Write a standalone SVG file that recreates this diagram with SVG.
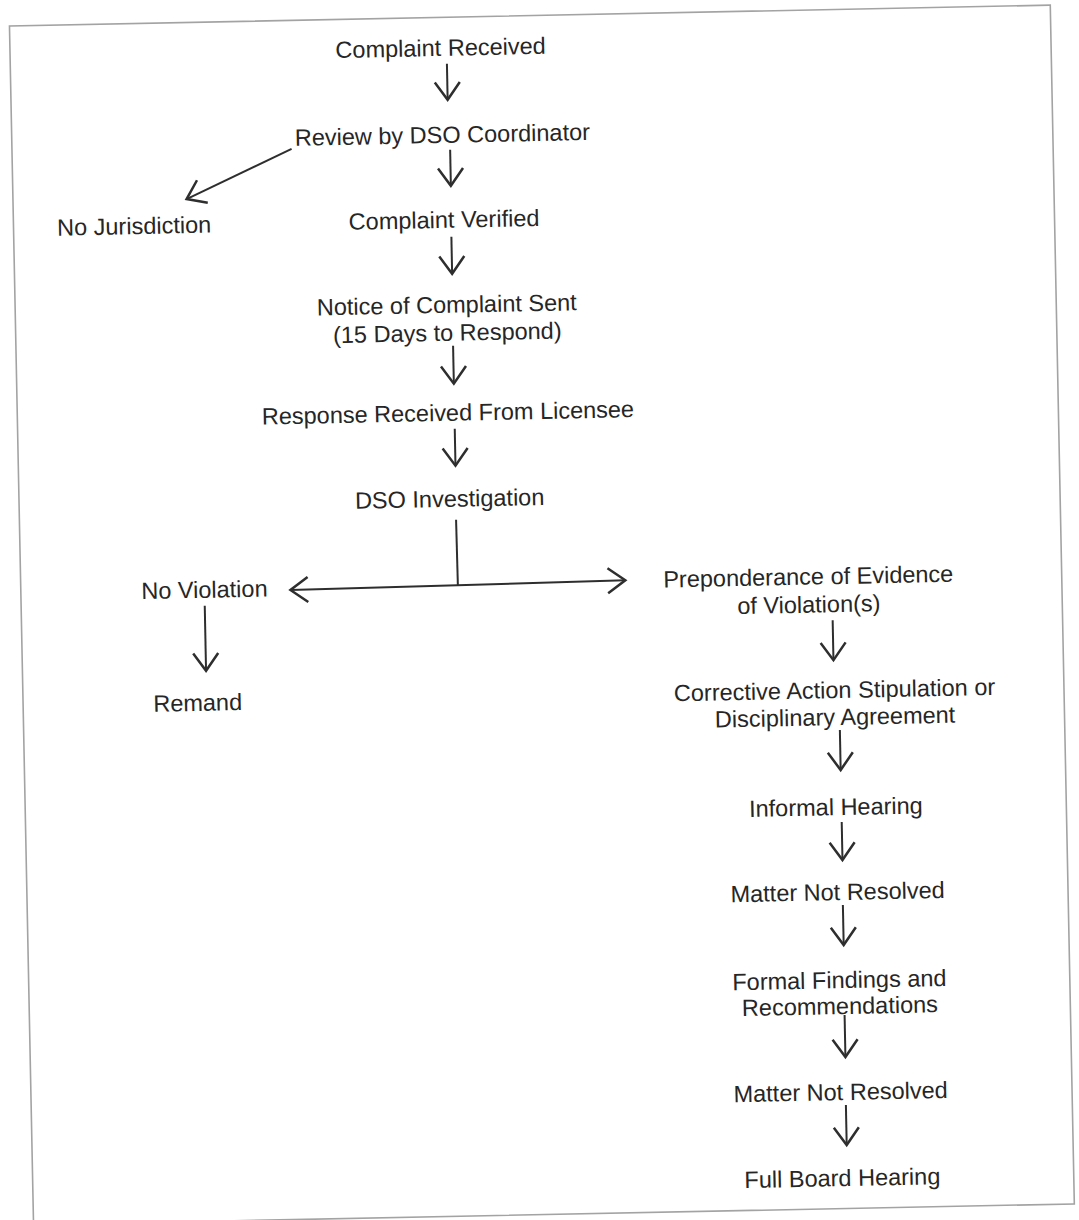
<svg xmlns="http://www.w3.org/2000/svg" width="1079" height="1220" viewBox="0 0 1079 1220">
<style>
.t{font-family:"Liberation Sans",Arial,sans-serif;font-size:23.5px;fill:#262626;text-anchor:middle}
.c{stroke:#2e2e2e;stroke-width:2;fill:none}
.a{marker-end:url(#ah)}
.frame{fill:none;stroke:#a3a3a3;stroke-width:1.6}
</style>
<defs>
<marker id="ah" markerUnits="userSpaceOnUse" markerWidth="30" markerHeight="30" viewBox="-16 -12 18 24" refX="0" refY="0" orient="auto-start-reverse">
<path d="M-14,-10 L0,0 L-14,10" fill="none" stroke="#2e2e2e" stroke-width="2"/>
</marker>
</defs>
<rect width="1079" height="1220" fill="#ffffff"/>
<g transform="rotate(-1.15 542 615)">
<rect class="frame" x="21.4" y="15.5" width="1041" height="1199"/>
<g id="connectors">
<line class="c a" x1="458" y1="62" x2="458" y2="98"/>
<line class="c a" x1="459.5" y1="148" x2="459.5" y2="184"/>
<line class="c a" x1="459" y1="235" x2="459" y2="272"/>
<line class="c a" x1="458.5" y1="344" x2="458.5" y2="382"/>
<line class="c a" x1="458.5" y1="427" x2="458.5" y2="464"/>
<line class="c a" x1="301" y1="144" x2="195" y2="192"/>
<line class="c" x1="458" y1="518" x2="458.5" y2="584"/>
<line class="c" x1="291" y1="585" x2="626" y2="582" marker-start="url(#ah)" marker-end="url(#ah)"/>
<line class="c a" x1="205" y1="599" x2="205" y2="664"/>
<line class="c a" x1="832.5" y1="626" x2="832.5" y2="666"/>
<line class="c a" x1="837.5" y1="736" x2="837.5" y2="776"/>
<line class="c a" x1="837.5" y1="828" x2="837.5" y2="866"/>
<line class="c a" x1="837" y1="911" x2="837" y2="951"/>
<line class="c a" x1="836.5" y1="1021" x2="836.5" y2="1063"/>
<line class="c a" x1="836" y1="1111" x2="836" y2="1151"/>
</g>
<g id="n-complaint-received"><text class="t" x="452" y="54">Complaint Received</text></g>
<g id="n-review"><text class="t" x="452" y="141">Review by DSO Coordinator</text></g>
<g id="n-no-jurisdiction"><text class="t" x="142" y="226">No Jurisdiction</text></g>
<g id="n-complaint-verified"><text class="t" x="452" y="226">Complaint Verified</text></g>
<g id="n-notice"><text class="t" x="453" y="311">Notice of Complaint Sent</text><text class="t" x="453" y="339">(15 Days to Respond)</text></g>
<g id="n-response"><text class="t" x="452" y="419">Response Received From Licensee</text></g>
<g id="n-investigation"><text class="t" x="452" y="505">DSO Investigation</text></g>
<g id="n-no-violation"><text class="t" x="205" y="591">No Violation</text></g>
<g id="n-remand"><text class="t" x="196" y="704">Remand</text></g>
<g id="n-preponderance"><text class="t" x="809" y="590">Preponderance of Evidence</text><text class="t" x="809" y="618">of Violation(s)</text></g>
<g id="n-corrective"><text class="t" x="833" y="704">Corrective Action Stipulation or</text><text class="t" x="833" y="731">Disciplinary Agreement</text></g>
<g id="n-informal"><text class="t" x="832" y="821">Informal Hearing</text></g>
<g id="n-not-resolved-1"><text class="t" x="832" y="906">Matter Not Resolved</text></g>
<g id="n-formal"><text class="t" x="832" y="994">Formal Findings and</text><text class="t" x="832" y="1020">Recommendations</text></g>
<g id="n-not-resolved-2"><text class="t" x="831" y="1106">Matter Not Resolved</text></g>
<g id="n-full-board"><text class="t" x="831" y="1192">Full Board Hearing</text></g>
</g>
</svg>
